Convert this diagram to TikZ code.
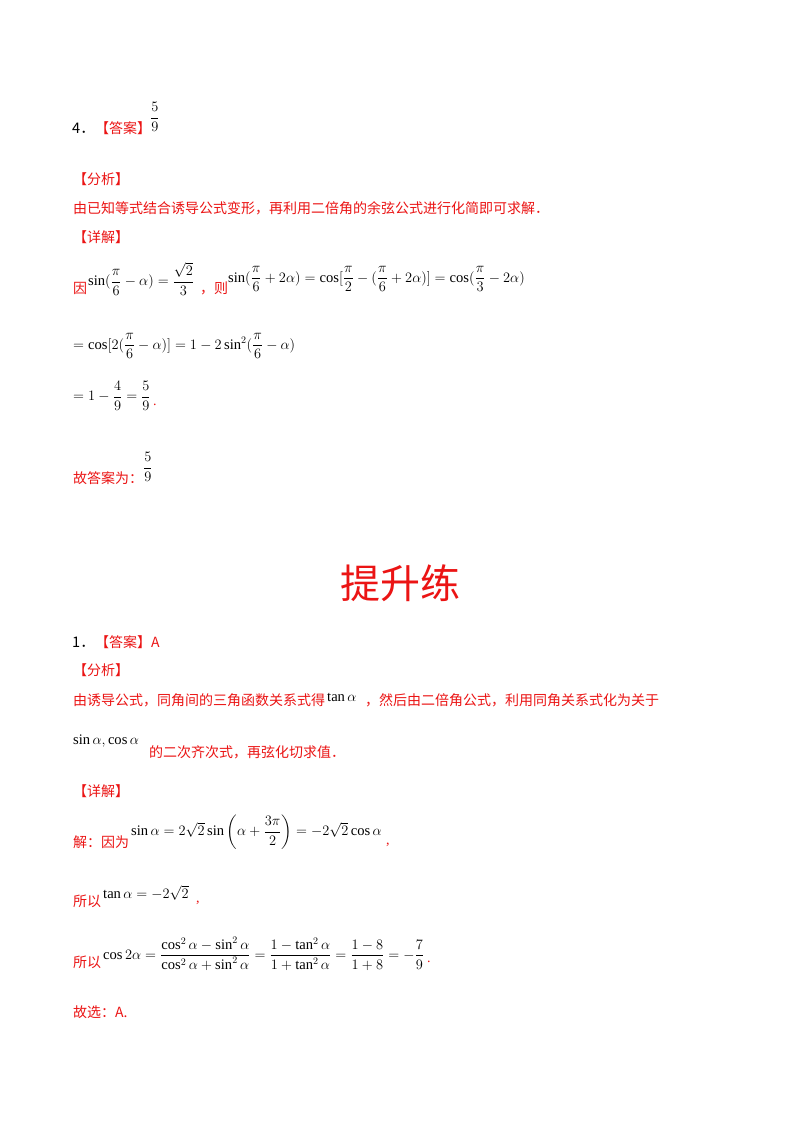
\documentclass[tikz,border=0pt]{standalone}
\usepackage{amsmath}
\usepackage{fontspec}
\setmainfont{Liberation Serif}
\newfontfamily\cjk{Noto Sans CJK SC}
\definecolor{rd}{RGB}{235,20,20}
\tikzset{txt/.style={anchor=west,inner sep=0pt,font=\fontsize{14}{17}\selectfont},
 red/.style={txt,text=rd},
 blk/.style={txt,text=black,font=\fontsize{14.6}{17}\selectfont}}
\begin{document}
\begin{tikzpicture}[x=1pt,y=-1pt]
\useasboundingbox (0,0) rectangle (800,1132);
\fill[white] (0,0) rectangle (800,1132);
% problem 4
\node[blk] (n4) at (72,128) {\cjk 4．};
\node[red] (a4) at (95,128) {\cjk【答案】};
\node[blk] (f4) at (150,117) {$\dfrac{5}{9}$};
\node[red] (fx1) at (73,179) {\cjk【分析】};
\node[red] (t1) at (73,208) {\cjk 由已知等式结合诱导公式变形，再利用二倍角的余弦公式进行化简即可求解．};
\node[red] (xj1) at (73,237) {\cjk【详解】};
\node[red] (yin) at (73,288) {\cjk 因};
\node[blk] (e1) at (88,279) {$\sin(\dfrac{\pi}{6}-\alpha)=\dfrac{\sqrt2}{3}$};
\node[red] (ze) at (200,288) {\cjk ，则};
\node[blk] (e2) at (228,279) {$\sin(\dfrac{\pi}{6}+2\alpha)=\cos[\dfrac{\pi}{2}-(\dfrac{\pi}{6}+2\alpha)]=\cos(\dfrac{\pi}{3}-2\alpha)$};
\node[blk] (e3) at (73,346) {$=\cos[2(\dfrac{\pi}{6}-\alpha)]=1-2\sin^2(\dfrac{\pi}{6}-\alpha)$};
\node[blk] (e4) at (73,396) {$=1-\dfrac{4}{9}=\dfrac{5}{9}$};
\node[red] (p4) at (153,405) {.};
\node[red] (gd) at (73,478) {\cjk 故答案为：};
\node[blk] (f5) at (143,467) {$\dfrac{5}{9}$};
% title
\node[text=rd,font=\cjk\fontsize{40}{44}\selectfont] (title) at (400,583) {提升练};
% problem 1
\node[blk] (n1) at (72,642) {\cjk 1．};
\node[red] (a1) at (95,642) {\cjk【答案】A};
\node[red] (fx2) at (73,670) {\cjk【分析】};
\node[red] (t2a) at (73,700) {\cjk 由诱导公式，同角间的三角函数关系式得};
\node[blk] (tan) at (327,697) {$\tan\alpha$};
\node[red] (t2b) at (365,700) {\cjk ，然后由二倍角公式，利用同角关系式化为关于};
\node[blk] (sc) at (73,741) {$\sin\alpha,\cos\alpha$};
\node[red] (t2c) at (149,752) {\cjk 的二次齐次式，再弦化切求值．};
\node[red] (xj2) at (73,791) {\cjk【详解】};
\node[red] (jie) at (73,842) {\cjk 解：因为};
\node[blk] (e5) at (131,832) {$\sin\alpha=2\sqrt2\sin\left(\alpha+\dfrac{3\pi}{2}\right)=-2\sqrt2\cos\alpha$};
\node[red] (c5) at (386,845) {,};
\node[red] (sy1) at (73,901) {\cjk 所以};
\node[blk] (e6) at (103,893) {$\tan\alpha=-2\sqrt2$};
\node[red] (c6) at (196,903) {,};
\node[red] (sy2) at (73,962) {\cjk 所以};
\node[blk] (e7) at (103,954) {$\cos2\alpha=\dfrac{\cos^2\alpha-\sin^2\alpha}{\cos^2\alpha+\sin^2\alpha}=\dfrac{1-\tan^2\alpha}{1+\tan^2\alpha}=\dfrac{1-8}{1+8}=-\dfrac{7}{9}$};
\node[red] (p7) at (427,962) {.};
\node[red] (gx) at (73,1012) {\cjk 故选：A.};
\end{tikzpicture}
\end{document}
